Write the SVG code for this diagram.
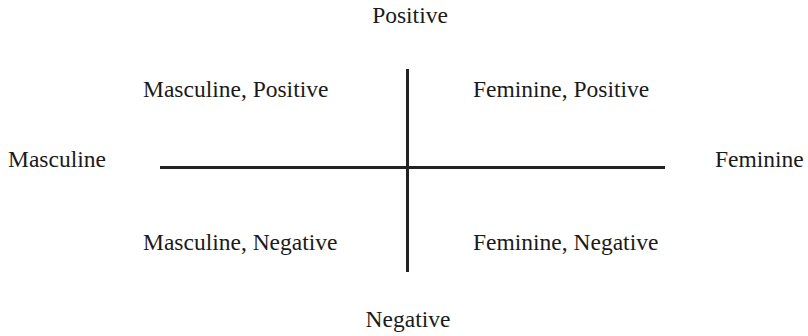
<svg xmlns="http://www.w3.org/2000/svg" width="808" height="336" viewBox="0 0 808 336">
<style>
text{font-size:23.5px;fill:#1a1a1a}
.ax{stroke:#222;stroke-width:3;fill:none}
</style>
<rect width="808" height="336" fill="#fff"/>
<g id="connectors">
<line class="ax" x1="160" y1="167.5" x2="665" y2="167.5"/>
<line class="ax" x1="407.5" y1="69" x2="407.5" y2="272"/>
</g>
<g font-family="Liberation Serif, DejaVu Serif, serif">
<g id="positive"><text x="410" y="23" text-anchor="middle">Positive</text></g>
<g id="negative"><text x="408" y="327" text-anchor="middle">Negative</text></g>
<g id="masculine"><text x="8" y="167">Masculine</text></g>
<g id="feminine"><text x="715" y="167">Feminine</text></g>
<g id="masc-pos"><text x="143" y="97">Masculine, Positive</text></g>
<g id="fem-pos"><text x="473" y="97">Feminine, Positive</text></g>
<g id="masc-neg"><text x="143" y="250">Masculine, Negative</text></g>
<g id="fem-neg"><text x="473" y="250">Feminine, Negative</text></g>
</g>
</svg>
